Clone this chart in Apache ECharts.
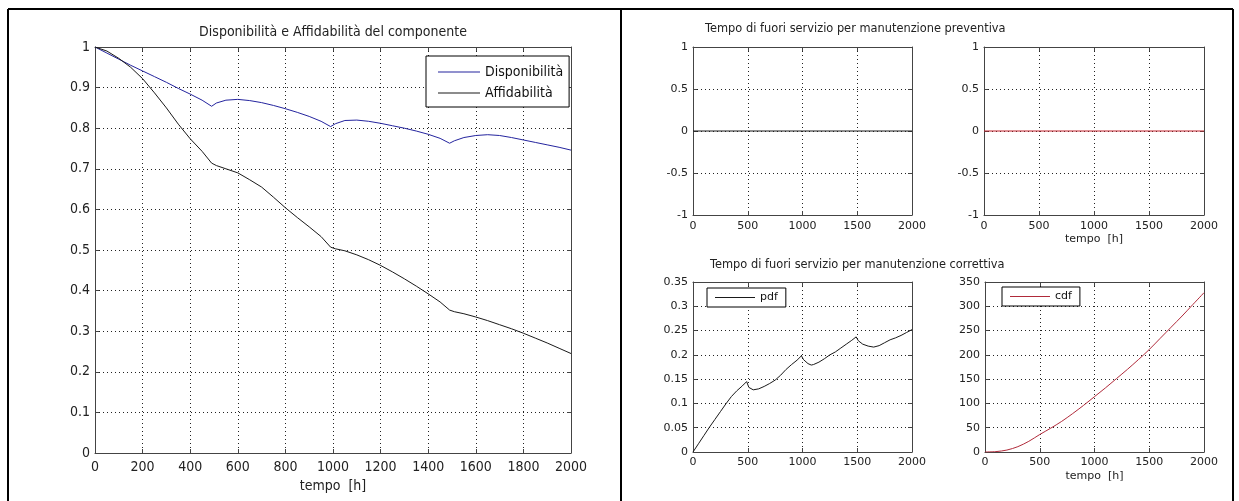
<!DOCTYPE html>
<html>
<head>
<meta charset="utf-8">
<script src="https://cdn.jsdelivr.net/npm/echarts@6/dist/echarts.min.js"></script>
<style>
html,body{margin:0;padding:0;background:#fff;}
#chart{width:1239px;height:501px;}
</style>
</head>
<body>
<div id="chart"></div>
<script>
// ---------- DATA ----------
const leftTime = [0,50,100,150,200,250,300,350,400,450,490,510,550,600,650,700,750,800,850,900,950,990,1010,1050,1100,1150,1200,1250,1300,1350,1400,1450,1490,1510,1550,1600,1650,1700,1750,1800,1850,1900,1950,2000];
const disponibilita = [1.000,0.985,0.970,0.955,0.941,0.927,0.913,0.898,0.884,0.869,0.854,0.862,0.869,0.871,0.868,0.863,0.856,0.848,0.839,0.829,0.817,0.804,0.811,0.819,0.820,0.817,0.812,0.806,0.800,0.793,0.785,0.775,0.763,0.769,0.777,0.782,0.784,0.782,0.777,0.771,0.765,0.759,0.753,0.746];
const affidabilita = [1.000,0.990,0.972,0.950,0.922,0.887,0.850,0.810,0.774,0.743,0.714,0.708,0.700,0.690,0.673,0.655,0.630,0.604,0.580,0.557,0.533,0.507,0.503,0.498,0.488,0.476,0.462,0.446,0.429,0.411,0.392,0.372,0.352,0.348,0.343,0.335,0.326,0.316,0.306,0.295,0.283,0.271,0.258,0.245];

const prevTime = [0,500,1000,1500,2000];
const prevPdf = [0,0,0,0,0];
const prevCdf = [0,0,0,0,0];

const corrTime = [0,50,100,150,200,250,300,350,400,450,490,510,550,600,650,700,750,800,850,900,950,990,1010,1050,1080,1100,1150,1200,1250,1300,1350,1400,1450,1490,1510,1550,1600,1650,1700,1750,1800,1850,1900,1950,2000];
const corrPdf = [0,0.017,0.034,0.051,0.067,0.083,0.099,0.114,0.126,0.136,0.145,0.133,0.128,0.130,0.135,0.141,0.148,0.158,0.170,0.180,0.189,0.198,0.190,0.182,0.179,0.180,0.185,0.192,0.200,0.206,0.214,0.222,0.230,0.237,0.229,0.222,0.218,0.216,0.219,0.225,0.231,0.235,0.240,0.246,0.252];

const cdfTime = [0,100,200,300,400,500,600,700,800,900,1000,1100,1200,1300,1400,1500,1600,1700,1800,1900,2000];
const corrCdf = [0,0.8,4,11,22,36,49,63,79,96,114,132,151,170,190,211,234,257,280,304,328];

const mainTitle = 'Disponibilità e Affidabilità del componente';
const prevTitle = 'Tempo di fuori servizio per manutenzione preventiva';
const corrTitle = 'Tempo di fuori servizio per manutenzione correttiva';
const xName = 'tempo  [h]';

// ---------- HELPERS ----------
const NARROW = "'DejaVu Sans Condensed','Liberation Sans Narrow','Liberation Sans',sans-serif";
const WIDE = "'DejaVu Sans','Liberation Sans',Arial,sans-serif";
const pair = (xs, ys) => xs.map((x, i) => [x, ys[i]]);
const fmt = v => String(+v.toFixed(3));

const xAxes = [], yAxes = [];
function addAxes(grid, xr, yr, font, size, showXName, nameGap, labelMargin) {
  const common = {
    gridIndex: grid,
    axisLine: {show: true, onZero: false, lineStyle: {color: '#444', width: 1}},
    axisTick: {show: true, inside: true, length: 4, lineStyle: {color: '#444'}},
  };
  xAxes.push(Object.assign({}, common, {
    type: 'value', position: 'bottom', min: xr[0], max: xr[1], interval: xr[2],
    axisLabel: {fontFamily: font, fontSize: size, color: '#222', margin: labelMargin, formatter: fmt, showMaxLabel: true, showMinLabel: true},
    splitLine: {show: true, lineStyle: {color: '#222', type: [1, 3], width: 1}},
    name: showXName ? xName : '', nameLocation: 'middle', nameGap: nameGap,
    nameTextStyle: {fontFamily: font, fontSize: size, color: '#222'}
  }));
  xAxes.push(Object.assign({}, common, {
    type: 'value', position: 'top', min: xr[0], max: xr[1], interval: xr[2],
    axisLabel: {show: false}, splitLine: {show: false}
  }));
  yAxes.push(Object.assign({}, common, {
    type: 'value', position: 'left', min: yr[0], max: yr[1], interval: yr[2],
    axisLabel: {fontFamily: font, fontSize: size, color: '#222', margin: 5, formatter: fmt, showMaxLabel: true, showMinLabel: true},
    splitLine: {show: true, lineStyle: {color: '#222', type: [1, 3], width: 1}}
  }));
  yAxes.push(Object.assign({}, common, {
    type: 'value', position: 'right', min: yr[0], max: yr[1], interval: yr[2],
    axisLabel: {show: false}, splitLine: {show: false}
  }));
}

addAxes(0, [0, 2000, 200], [0, 1, 0.1], NARROW, 14, true, 26, 7);
addAxes(1, [0, 2000, 500], [-1, 1, 0.5], WIDE, 11, false, 18, 6);
addAxes(2, [0, 2000, 500], [-1, 1, 0.5], WIDE, 11, true, 19, 6);
addAxes(3, [0, 2000, 500], [0, 0.35, 0.05], WIDE, 11, false, 18, 5);
addAxes(4, [0, 2000, 500], [0, 350, 50], WIDE, 11, true, 19, 5);

function line(name, idx, data, color, smooth) {
  return {
    name: name, type: 'line', xAxisIndex: idx * 2, yAxisIndex: idx * 2,
    data: data, symbol: 'none', showSymbol: false, smooth: smooth || false,
    lineStyle: {color: color, width: 1}, itemStyle: {color: color},
    animation: false, z: 5
  };
}

const legendBase = {
  orient: 'vertical', icon: 'rect', itemHeight: 1, selectedMode: false,
  backgroundColor: '#fff', borderColor: '#000', borderWidth: 1, borderRadius: 0
};

const option = {
  backgroundColor: '#fff',
  animation: false,
  title: [
    {text: mainTitle, left: 333, top: 25, padding: 0, textAlign: 'center',
     textStyle: {fontFamily: NARROW, fontSize: 14, fontWeight: 'normal', color: '#222'}},
    {text: prevTitle, left: 705, top: 24, padding: 0,
     textStyle: {fontFamily: WIDE, fontSize: 11.4, fontWeight: 'normal', color: '#222'}},
    {text: corrTitle, left: 710, top: 260, padding: 0,
     textStyle: {fontFamily: WIDE, fontSize: 11.4, fontWeight: 'normal', color: '#222'}}
  ],
  grid: [
    {left: 95, top: 47, width: 476, height: 406},
    {left: 693, top: 47, width: 219, height: 168},
    {left: 984, top: 47, width: 220, height: 168},
    {left: 693, top: 282, width: 219, height: 170},
    {left: 985, top: 282, width: 219, height: 170}
  ],
  xAxis: xAxes,
  yAxis: yAxes,
  legend: [
    Object.assign({}, legendBase, {data: ['Disponibilità', 'Affidabilità'], left: 426, top: 56,
     padding: [9, 6, 7, 12], itemGap: 7, itemWidth: 42,
     textStyle: {fontFamily: NARROW, fontSize: 14, lineHeight: 14, color: '#111'}}),
    Object.assign({}, legendBase, {data: ['pdf'], left: 707, top: 288,
     padding: [4, 8, 4, 8], itemWidth: 40,
     textStyle: {fontFamily: WIDE, fontSize: 11, lineHeight: 11, color: '#111'}}),
    Object.assign({}, legendBase, {data: ['cdf'], left: 1002, top: 287,
     padding: [4, 8, 4, 8], itemWidth: 40,
     textStyle: {fontFamily: WIDE, fontSize: 11, lineHeight: 11, color: '#111'}})
  ],
  series: [
    line('Disponibilità', 0, pair(leftTime, disponibilita), '#24249e'),
    line('Affidabilità', 0, pair(leftTime, affidabilita), '#1a1a1a'),
    line('preventiva pdf', 1, pair(prevTime, prevPdf), '#1a1a1a'),
    line('preventiva cdf', 2, pair(prevTime, prevCdf), '#c0202a'),
    line('pdf', 3, pair(corrTime, corrPdf), '#1a1a1a'),
    line('cdf', 4, pair(cdfTime, corrCdf), '#b02a3a', 0.3)
  ],
  graphic: [
    {type: 'line', shape: {x1: 8, y1: 9, x2: 1233, y2: 9}, style: {stroke: '#000', lineWidth: 2}},
    {type: 'line', shape: {x1: 8, y1: 9, x2: 8, y2: 501}, style: {stroke: '#000', lineWidth: 2}},
    {type: 'line', shape: {x1: 621, y1: 9, x2: 621, y2: 501}, style: {stroke: '#000', lineWidth: 2}},
    {type: 'line', shape: {x1: 1233, y1: 9, x2: 1233, y2: 501}, style: {stroke: '#000', lineWidth: 2}}
  ]
};

const chart = echarts.init(document.getElementById('chart'), null, {renderer: 'canvas'});
chart.setOption(option);
</script>
</body>
</html>
